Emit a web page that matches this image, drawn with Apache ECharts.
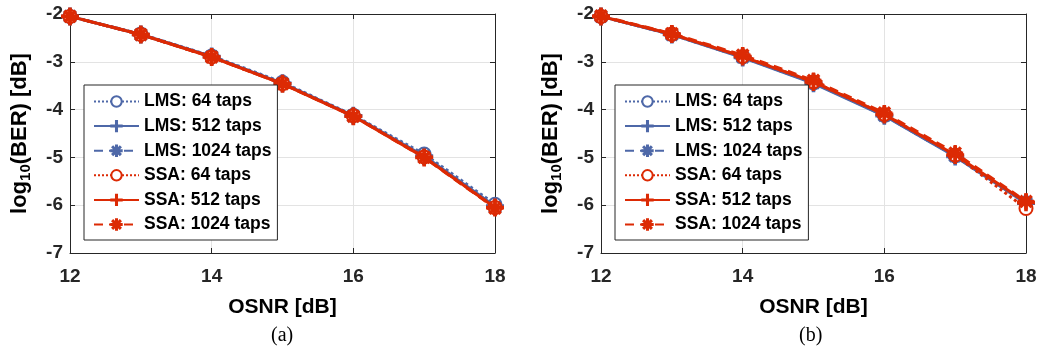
<!DOCTYPE html>
<html>
<head>
<meta charset="utf-8">
<script src="https://cdn.jsdelivr.net/npm/echarts@6/dist/echarts.min.js"></script>
<style>html,body{margin:0;padding:0;background:#fff}#c{width:1041px;height:352px}</style>
</head>
<body>
<div id="c"></div>
<script>
// ---- data ----
const osnr = [12, 13, 14, 15, 16, 17, 18];
const yTicks = [-7, -6, -5, -4, -3, -2];
const xTicks = [12, 14, 16, 18];
const seriesNames = ['LMS: 64 taps', 'LMS: 512 taps', 'LMS: 1024 taps', 'SSA: 64 taps', 'SSA: 512 taps', 'SSA: 1024 taps'];
// panel (a)
const a_lms64   = [-2.05, -2.42, -2.88, -3.43, -4.12, -4.93, -5.98];
const a_lms512  = [-2.05, -2.43, -2.89, -3.45, -4.13, -4.97, -6.02];
const a_lms1024 = [-2.05, -2.43, -2.89, -3.45, -4.13, -4.98, -6.04];
const a_ssa64   = [-2.05, -2.43, -2.90, -3.46, -4.13, -4.99, -6.05];
const a_ssa512  = [-2.05, -2.43, -2.90, -3.46, -4.14, -5.00, -6.05];
const a_ssa1024 = [-2.05, -2.43, -2.90, -3.46, -4.14, -5.00, -6.06];
// panel (b)
const b_lms64   = [-2.05, -2.43, -2.90, -3.44, -4.12, -4.97, -5.95];
const b_lms512  = [-2.05, -2.43, -2.91, -3.45, -4.13, -4.98, -5.96];
const b_lms1024 = [-2.05, -2.43, -2.90, -3.44, -4.12, -4.97, -5.95];
const b_ssa64   = [-2.05, -2.42, -2.89, -3.42, -4.10, -4.95, -6.07];
const b_ssa512  = [-2.05, -2.42, -2.89, -3.42, -4.10, -4.95, -5.94];
const b_ssa1024 = [-2.04, -2.41, -2.86, -3.39, -4.07, -4.91, -5.92];

const BLUE = '#4e68a8', RED = '#dc2a04';
const PLUS = 'path://M9,0H11V9H20V11H11V20H9V11H0V9H9Z';
const STAR = 'path://M9,0H11V20H9Z M0,9H20V11H0Z M3.6,2.2L17.8,16.4L16.4,17.8L2.2,3.6Z M16.4,2.2L17.8,3.6L3.6,17.8L2.2,16.4Z';
const FONT = 'Liberation Sans';

const panelData = [
  [a_lms64, a_lms512, a_lms1024, a_ssa64, a_ssa512, a_ssa1024],
  [b_lms64, b_lms512, b_lms1024, b_ssa64, b_ssa512, b_ssa1024]
];
const styles = [
  {color: BLUE, type: 'dotted', symbol: 'emptyCircle', size: 13},
  {color: BLUE, type: 'solid', symbol: PLUS, size: 16},
  {color: BLUE, type: [9, 6], symbol: STAR, size: 14},
  {color: RED, type: 'dotted', symbol: 'emptyCircle', size: 13},
  {color: RED, type: 'solid', symbol: PLUS, size: 16},
  {color: RED, type: [9, 6], symbol: STAR, size: 14}
];

const grids = [
  {left: 70, right: 546, top: 14, bottom: 99},
  {left: 601, right: 15, top: 14, bottom: 99}
];

const xAxes = [], yAxes = [], series = [], legends = [];
grids.forEach((g, gi) => {
  xAxes.push({
    type: 'value', gridIndex: gi, min: xTicks[0], max: xTicks[xTicks.length - 1], interval: 2,
    name: 'OSNR [dB]', nameLocation: 'middle', nameGap: 44,
    nameTextStyle: {fontFamily: FONT, fontWeight: 'bold', fontSize: 21, color: '#000'},
    axisLine: {show: true, lineStyle: {color: '#262626', width: 1}},
    axisTick: {show: true, inside: true, length: 5, lineStyle: {color: '#262626'}},
    axisLabel: {fontFamily: FONT, fontWeight: 'bold', fontSize: 19, color: '#262626', margin: 14},
    splitLine: {show: true, lineStyle: {color: '#e3e3e3', width: 1}}
  });
  xAxes.push({
    type: 'value', gridIndex: gi, position: 'top', min: xTicks[0], max: xTicks[xTicks.length - 1], interval: 2,
    axisLine: {show: true, lineStyle: {color: '#262626', width: 1}},
    axisTick: {show: true, inside: true, length: 5, lineStyle: {color: '#262626'}},
    axisLabel: {show: false}, splitLine: {show: false}
  });
  yAxes.push({
    type: 'value', gridIndex: gi, min: yTicks[0], max: yTicks[yTicks.length - 1], interval: 1,
    name: '{n|log}{s|10}{n|(BER) [dB]}', nameLocation: 'middle', nameGap: 37,
    nameTextStyle: {
      fontFamily: FONT, fontWeight: 'bold', fontSize: 22, color: '#000',
      rich: {
        n: {fontFamily: FONT, fontWeight: 'bold', fontSize: 22, color: '#000'},
        s: {fontFamily: FONT, fontWeight: 'bold', fontSize: 15, color: '#000', verticalAlign: 'bottom', padding: [12, 0, 0, 0]}
      }
    },
    axisLine: {show: true, lineStyle: {color: '#262626', width: 1}},
    axisTick: {show: true, inside: true, length: 5, lineStyle: {color: '#262626'}},
    axisLabel: {fontFamily: FONT, fontWeight: 'bold', fontSize: 19, color: '#262626', margin: 7},
    splitLine: {show: true, lineStyle: {color: '#e3e3e3', width: 1}}
  });
  yAxes.push({
    type: 'value', gridIndex: gi, position: 'right', min: yTicks[0], max: yTicks[yTicks.length - 1], interval: 1,
    axisLine: {show: true, lineStyle: {color: '#262626', width: 1}},
    axisTick: {show: true, inside: true, length: 5, lineStyle: {color: '#262626'}},
    axisLabel: {show: false}, splitLine: {show: false}
  });
  panelData[gi].forEach((vals, si) => {
    const st = styles[si];
    series.push({
      name: seriesNames[si], type: 'line', xAxisIndex: gi * 2, yAxisIndex: gi * 2,
      data: osnr.map((x, i) => [x, vals[i]]),
      symbol: st.symbol, symbolSize: st.size, showAllSymbol: true,
      color: st.color,
      lineStyle: {color: st.color, width: 3, type: st.type},
      itemStyle: {color: st.color, borderColor: st.color, borderWidth: 2},
      emphasis: {disabled: true}, animation: false, z: 2 + si
    });
  });
  legends.push({
    data: seriesNames, orient: 'vertical',
    left: gi === 0 ? 84 : 615, top: 85,
    backgroundColor: '#fff', borderColor: '#262626', borderWidth: 1,
    padding: [7, 6, 6, 9], itemGap: 5.6, itemWidth: 45, itemHeight: 13,
    textStyle: {fontFamily: FONT, fontWeight: 'bold', fontSize: 17.5, color: '#000', lineHeight: 19},
    selectedMode: false, z: 10
  });
});

const chart = echarts.init(document.getElementById('c'), null, {renderer: 'canvas'});
chart.setOption({
  backgroundColor: '#fff',
  animation: false,
  grid: grids,
  xAxis: xAxes,
  yAxis: yAxes,
  legend: legends,
  series: series,
  graphic: [
    {type: 'text', left: 271, top: 326, style: {text: '(a)', font: '20px "Liberation Serif"', fill: '#000'}},
    {type: 'text', left: 799, top: 326, style: {text: '(b)', font: '20px "Liberation Serif"', fill: '#000'}}
  ]
});
</script>
</body>
</html>
